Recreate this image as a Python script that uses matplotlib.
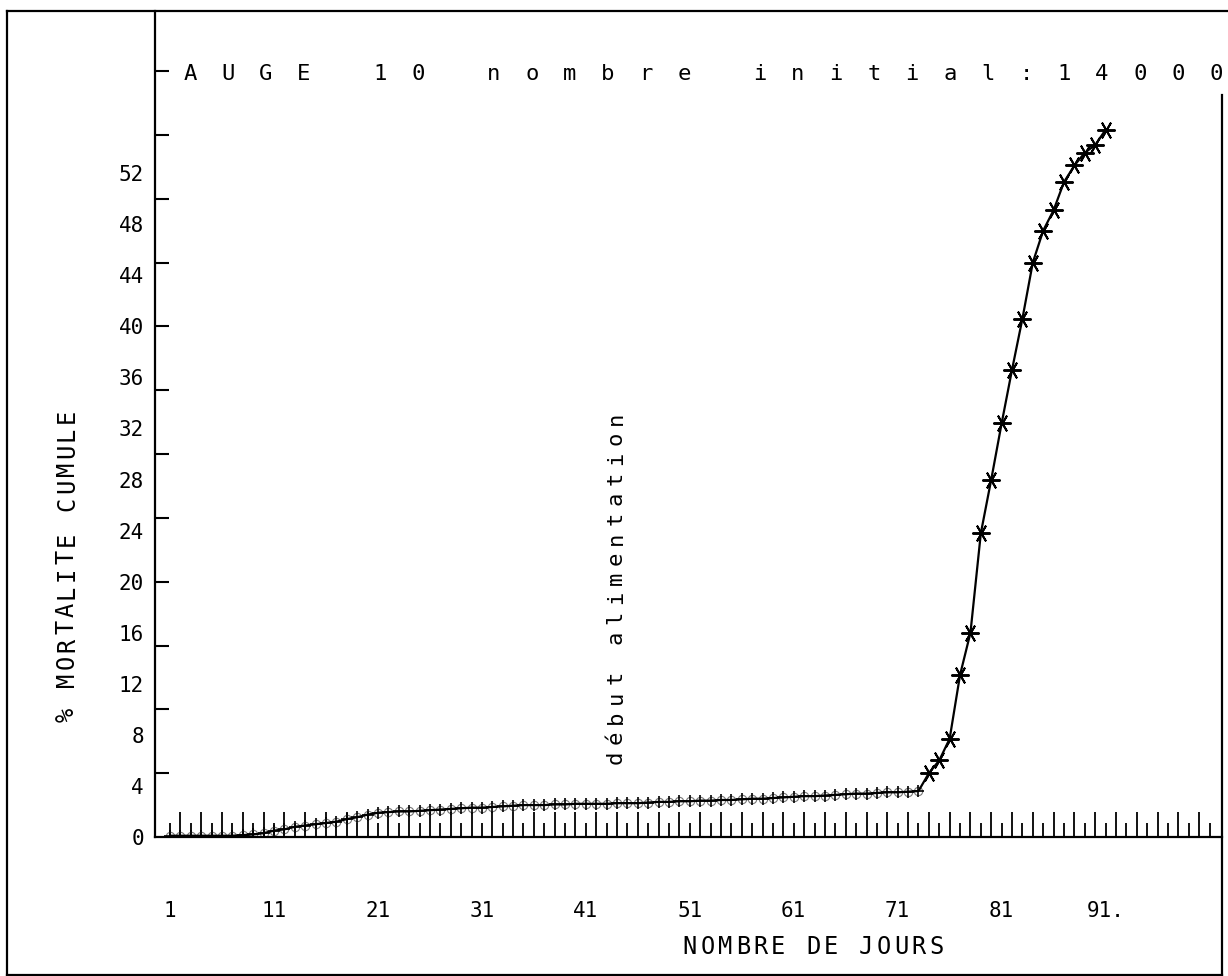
import matplotlib.pyplot as plt
from matplotlib.lines import Line2D


# ==========================================
# 1. Données
# ==========================================

days = list(range(1, 92))

mortality_cum = [
    0.1, 0.1, 0.1, 0.1, 0.1, 0.1, 0.1, 0.15, 0.2, 0.3,        # 1-10
    0.5, 0.6, 0.8, 0.9, 1.0, 1.1, 1.2, 1.4, 1.55, 1.75,       # 11-20
    1.9, 1.95, 2.0, 2.0, 2.05, 2.1, 2.15, 2.2, 2.25, 2.3,     # 21-30
    2.3, 2.35, 2.4, 2.45, 2.5, 2.5, 2.5, 2.55, 2.55, 2.6,     # 31-40
    2.6, 2.6, 2.6, 2.65, 2.65, 2.65, 2.7, 2.75, 2.75, 2.8,    # 41-50
    2.8, 2.85, 2.85, 2.9, 2.9, 2.95, 3.0, 3.0, 3.05, 3.1,     # 51-60
    3.15, 3.2, 3.2, 3.25, 3.3, 3.35, 3.4, 3.4, 3.45, 3.5,     # 61-70
    3.5, 3.55, 3.6, 5.0, 6.0, 7.7, 12.7, 16.0, 23.8, 28.0,    # 71-80
    32.4, 36.6, 40.6, 45.0, 47.5, 49.1, 51.3, 52.6, 53.6,     # 81-89
    54.2, 55.4,                                               # 90-91
]

# dernier jour de la phase "plate" (avant la montée)
flat_end_day = 73

y_label_values = list(range(0, 53, 4))
y_mark_values = list(range(5, 61, 5))

x_label_days = [1, 11, 21, 31, 41, 51, 61, 71, 81, 91]
x_label_texts = ["1", "11", "21", "31", "41", "51", "61", "71", "81", "91."]

title_text = "AUGE 10 nombre initial:14000"
x_title = "NOMBRE DE JOURS"
y_title = "% MORTALITE CUMULE"
note_text = "début alimentation"
note_day = 43.3


# ==========================================
# 2. Figure et axes (style traceur)
# ==========================================

W, H = 1228, 976
MONO = ["DejaVu Sans Mono"]

fig = plt.figure(figsize=(W / 100, H / 100), dpi=100)
fig.patch.set_facecolor("white")

ax_left, ax_right = 155, 1222
ax_top, ax_bottom = 11, 837

ax = fig.add_axes([
    ax_left / W,
    1 - ax_bottom / H,
    (ax_right - ax_left) / W,
    (ax_bottom - ax_top) / H,
])

ax.set_xlim(-0.45, 102.2)
ax.set_ylim(0, 64.7)

for side in ["top", "right"]:
    ax.spines[side].set_visible(False)
for side in ["left", "bottom"]:
    ax.spines[side].set_linewidth(1.6)
    ax.spines[side].set_color("black")


# ==========================================
# 3. Graduations
# ==========================================

ax.set_xticks(list(range(2, 101, 2)))
ax.set_xticks(list(range(1, 102, 2)), minor=True)
ax.set_xticklabels([])
minor_labels = []
for d in range(1, 102, 2):
    if d in x_label_days:
        minor_labels.append(x_label_texts[x_label_days.index(d)])
    else:
        minor_labels.append("")
ax.set_xticklabels(minor_labels, minor=True, family=MONO, fontsize=15)
ax.tick_params(axis="x", which="major", direction="in", length=18,
               width=1.3, color="black")
ax.tick_params(axis="x", which="minor", direction="in", length=10,
               width=1.3, color="black", pad=46)

ax.yaxis.remove_overlapping_locs = False
ax.set_yticks(y_label_values)
ax.set_yticklabels([str(v) for v in y_label_values], family=MONO, fontsize=15)
ax.set_yticks(y_mark_values, minor=True)
ax.tick_params(axis="y", which="major", length=0, pad=8)
ax.tick_params(axis="y", which="minor", direction="in", length=10,
               width=1.5, color="black")


# ==========================================
# 4. Courbe de mortalité cumulée
# ==========================================

ax.plot(days, mortality_cum, color="black", linewidth=1.6, zorder=3)

flat_days = days[:flat_end_day]
flat_vals = mortality_cum[:flat_end_day]
rise_days = days[flat_end_day:]
rise_vals = mortality_cum[flat_end_day:]

ax.plot(flat_days, flat_vals, linestyle="none", marker="o", markersize=6,
        markerfacecolor="none", markeredgecolor="#777777",
        markeredgewidth=0.8, zorder=2)
ax.plot(flat_days, flat_vals, linestyle="none", marker="+", markersize=8,
        color="black", markeredgewidth=1.2, zorder=4)
ax.plot(rise_days, rise_vals, linestyle="none", marker=(6, 2, 90),
        markersize=13, color="black", markeredgewidth=1.4, zorder=4)


# ==========================================
# 5. Textes du traceur (caractères espacés)
# ==========================================

def plotter_text(x0, y0, s, pitch, size, vertical=False):
    # x0, y0 : centre du premier caractère, sur la ligne de base (pixels)
    for i, ch in enumerate(s):
        if ch == " ":
            continue
        if vertical:
            x, y = x0, y0 - i * pitch
            fig.text(x / W, 1 - y / H, ch, rotation=90,
                     rotation_mode="anchor", ha="center", va="baseline",
                     fontsize=size, family=MONO, color="black")
        else:
            x, y = x0 + i * pitch, y0
            fig.text(x / W, 1 - y / H, ch, ha="center", va="baseline",
                     fontsize=size, family=MONO, color="black")


plotter_text(190, 80, title_text, 38.0, 16)
plotter_text(690, 954, x_title, 17.6, 17)
plotter_text(74, 715, y_title, 17.6, 17, vertical=True)

# annotation placée au jour du début de l'alimentation
note_x_px = ax_left + (note_day + 0.45) / (102.2 + 0.45) * (ax_right - ax_left)
plotter_text(note_x_px + 12, 757, note_text, 19.9, 16, vertical=True)


# ==========================================
# 6. Cadre extérieur
# ==========================================

frame_lines = [
    ([7, 7], [11, 975]),
    ([7, W], [11, 11]),
    ([7, ax_right], [975, 975]),
    ([ax_right, ax_right], [95, 975]),
]
for xs, ys in frame_lines:
    fig.add_artist(Line2D([x / W for x in xs], [1 - y / H for y in ys],
                          transform=fig.transFigure, color="black",
                          linewidth=1.6))

fig.savefig("out.png", dpi=100, facecolor="white")
